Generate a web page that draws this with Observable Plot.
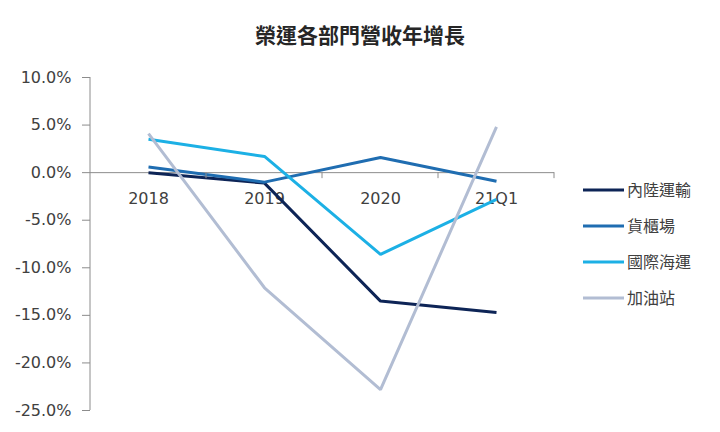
<!DOCTYPE html>
<html>
<head>
<meta charset="utf-8">
<script src="https://cdn.jsdelivr.net/npm/d3@7"></script>
<script src="https://cdn.jsdelivr.net/npm/@observablehq/plot@0.6"></script>
<style>
  html, body { margin: 0; padding: 0; background: #fff; }
  #chart { width: 720px; height: 432px; }
</style>
</head>
<body>
<div id="chart"></div>
<script>
const title = "榮運各部門營收年增長";
const categories = ["2018", "2019", "2020", "21Q1"];
const seriesNames = ["內陸運輸", "貨櫃場", "國際海運", "加油站"];
const inland = [0.0, -1.1, -13.5, -14.7];
const container = [0.6, -1.0, 1.6, -0.9];
const shipping = [3.5, 1.7, -8.6, -2.8];
const gas = [4.1, -12.1, -22.8, 4.8];
const yTicks = [10, 5, 0, -5, -10, -15, -20, -25];
const colors = ["#0d2456", "#1f6db1", "#1cb0e5", "#b2bdd3"];

const seriesValues = [inland, container, shipping, gas];
const rows = [];
seriesNames.forEach((name, i) => {
  categories.forEach((c, j) => rows.push({series: name, cat: c, value: seriesValues[i][j]}));
});

const numFont = "'DejaVu Sans', sans-serif";
const cjkFont = "'Noto Sans CJK TC', sans-serif";

const plot = Plot.plot({
  width: 720,
  height: 432,
  marginLeft: 90,
  marginRight: 166,
  marginTop: 77,
  marginBottom: 22,
  style: {fontFamily: numFont, fontSize: "16px", color: "#404040", background: "#fff", overflow: "visible"},
  x: {type: "point", domain: categories, padding: 0.5, axis: null},
  y: {domain: [-25, 10], axis: null},
  color: {domain: seriesNames, range: colors},
  marks: [
    Plot.axisY({ticks: yTicks, tickFormat: d => d.toFixed(1) + "%", tickSize: 8, tickPadding: 11, stroke: "#8c8c8c", fill: "#404040", fontSize: 16, label: null}),
    Plot.ruleY([0], {stroke: "#8c8c8c"}),
    Plot.text(categories, {x: d => d, y: 0, dy: 26, text: d => d, fill: "#404040", fontSize: 16}),
    Plot.line(rows, {x: "cat", y: "value", z: "series", stroke: "series", strokeWidth: 3, strokeLinejoin: "miter", strokeLinecap: "butt"})
  ]
});

document.getElementById("chart").appendChild(plot);

const svg = d3.select(plot);
const xs = plot.scale("x");
const ys = plot.scale("y");
const y0 = ys.apply(0);
const step = xs.apply(categories[1]) - xs.apply(categories[0]);
const bounds = categories.map(c => xs.apply(c) + step / 2);
// vertical axis line
svg.insert("line", ":first-child")
  .attr("x1", 90).attr("x2", 90)
  .attr("y1", ys.apply(10)).attr("y2", ys.apply(-25))
  .attr("stroke", "#8c8c8c");
// category boundary ticks on the zero line
svg.append("g").selectAll("line").data(bounds).join("line")
  .attr("x1", d => d).attr("x2", d => d)
  .attr("y1", y0).attr("y2", y0 + 6)
  .attr("stroke", "#8c8c8c");

// title
svg.append("text")
  .attr("x", 360).attr("y", 43)
  .attr("text-anchor", "middle")
  .attr("font-family", cjkFont)
  .attr("font-size", 21).attr("font-weight", "bold")
  .attr("fill", "#262626")
  .text(title);

// legend
const lg = svg.append("g");
seriesNames.forEach((name, i) => {
  const yy = 190 + i * 36;
  lg.append("line").attr("x1", 583).attr("x2", 624).attr("y1", yy).attr("y2", yy)
    .attr("stroke", colors[i]).attr("stroke-width", 3);
  lg.append("text").attr("x", 627).attr("y", yy).attr("dy", "0.36em")
    .attr("text-anchor", "start")
    .attr("font-family", cjkFont).attr("font-size", 16).attr("fill", "#404040")
    .text(name);
});
</script>
</body>
</html>
